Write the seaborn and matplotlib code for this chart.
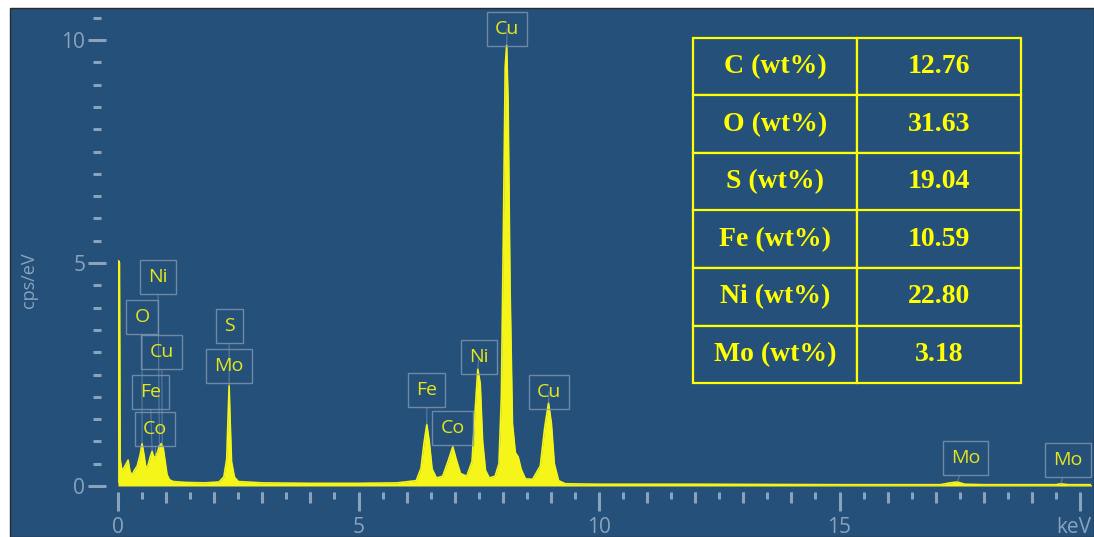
import numpy as np
import pandas as pd
import matplotlib
matplotlib.use("Agg")
import matplotlib.pyplot as plt
import matplotlib.transforms as mtrans
import seaborn as sns
from matplotlib.patches import Rectangle

# ---------------- data ----------------
energy_kev = [0.00, 0.01, 0.03, 0.045, 0.08, 0.12, 0.17, 0.21, 0.25, 0.29, 0.34, 0.40,
              0.46, 0.50, 0.54, 0.58, 0.62, 0.67, 0.71, 0.75, 0.78, 0.82, 0.86, 0.90,
              0.94, 0.98, 1.02, 1.07, 1.15, 1.40, 1.80, 2.10, 2.20, 2.26, 2.29, 2.31,
              2.33, 2.36, 2.42, 2.50, 3.00, 4.00, 5.00, 5.80, 6.20, 6.30, 6.36, 6.42,
              6.47, 6.53, 6.62, 6.75, 6.86, 6.96, 7.03, 7.12, 7.25, 7.36, 7.42, 7.48,
              7.53, 7.58, 7.64, 7.72, 7.84, 7.92, 7.97, 8.01, 8.05, 8.08, 8.11, 8.15,
              8.20, 8.26, 8.32, 8.38, 8.47, 8.62, 8.78, 8.87, 8.95, 9.01, 9.07, 9.16,
              9.30, 10.0, 12.0, 15.0, 17.10, 17.30, 17.45, 17.60, 18.0, 19.50, 19.60,
              19.75, 20.30]
counts_cps_ev = [0.08, 5.05, 5.00, 0.60, 0.35, 0.40, 0.50, 0.58, 0.32, 0.25, 0.35, 0.45,
                 0.70, 0.95, 0.70, 0.40, 0.45, 0.65, 0.78, 0.60, 0.68, 0.75, 0.90, 0.95,
                 0.85, 0.55, 0.25, 0.14, 0.10, 0.08, 0.07, 0.09, 0.20, 0.60, 1.60, 2.25,
                 1.50, 0.55, 0.20, 0.10, 0.07, 0.06, 0.06, 0.07, 0.12, 0.40, 0.95, 1.38,
                 1.00, 0.38, 0.18, 0.22, 0.55, 0.88, 0.60, 0.28, 0.22, 0.55, 1.60, 2.62,
                 2.30, 1.00, 0.35, 0.18, 0.22, 0.50, 2.00, 5.50, 9.40, 9.88, 8.60, 4.50,
                 1.40, 0.75, 0.65, 0.38, 0.16, 0.15, 0.45, 1.30, 1.86, 1.40, 0.50, 0.12,
                 0.05, 0.04, 0.04, 0.03, 0.03, 0.07, 0.09, 0.04, 0.03, 0.03, 0.05,
                 0.03, 0.03]

peak_labels = ["Ni", "O", "Cu", "Fe", "Co", "S", "Mo", "Fe", "Co", "Ni", "Cu", "Cu", "Mo", "Mo"]
peak_energy = [0.86, 0.50, 0.92, 0.71, 0.78, 2.31, 2.31, 6.42, 6.96, 7.48, 8.08, 8.95, 17.45, 19.60]

table_rows = ["C (wt%)", "O (wt%)", "S (wt%)", "Fe (wt%)", "Ni (wt%)", "Mo (wt%)"]
table_vals = ["12.76", "31.63", "19.04", "10.59", "22.80", "3.18"]

x_major = [0, 5, 10, 15, 20]
x_major_labels = ["0", "5", "10", "15", "keV"]
y_major = [0, 5, 10]

# ---------------- layout (label box centres, data units) ----------------
label_text_x = [0.83, 0.50, 0.91, 0.67, 0.77, 2.31, 2.31, 6.42, 6.96, 7.50, 8.09, 8.96, 17.62, 19.75]
label_text_y = [4.69, 3.79, 3.00, 2.11, 1.28, 3.59, 2.69, 2.15, 1.30, 2.89, 10.25, 2.11, 0.63, 0.58]

BG = "#25507a"
YEL = "#f5f51a"
TICK = "#8aa3bd"
BOX = "#7f98b3"

sns.set_theme(style="dark")
plt.rcParams["font.family"] = ["Open Sans", "DejaVu Sans"]

W, H = 1094, 537
fig = plt.figure(figsize=(W / 100, H / 100), dpi=100, facecolor="white")
panel = Rectangle((10 / W, 0), (W - 10) / W, (H - 8) / H, transform=fig.transFigure,
                  facecolor=BG, edgecolor="#2a2a2a", linewidth=1.0, zorder=-10)
fig.add_artist(panel)

ax = fig.add_axes([118 / W, (H - 486) / H, 972.6 / W, 479.45 / H])
ax.set_facecolor(BG)
ax.patch.set_alpha(0.0)
ax.set_zorder(1)

df = pd.DataFrame({"energy": energy_kev, "counts": counts_cps_ev})
ax.fill_between(df["energy"], 0, df["counts"], color=YEL, linewidth=0, zorder=2)
sns.lineplot(data=df, x="energy", y="counts", ax=ax, color=YEL, linewidth=1.2, zorder=3)

ax.set_xlim(0, 20.22)
ax.set_ylim(0, 10.75)

for s in ["top", "right", "left", "bottom"]:
    ax.spines[s].set_visible(False)
ax.spines["left"].set_position(("outward", 15))
ax.spines["bottom"].set_position(("outward", 4))
ax.grid(False)

# y ticks
ax.set_yticks(y_major)
ax.set_yticklabels([str(v) for v in y_major])
ax.set_yticks(np.arange(0, 10.6, 0.5), minor=True)
ax.tick_params(axis="y", which="major", direction="inout", length=13, width=2.2,
               color=TICK, labelcolor=TICK, labelsize=15, pad=2, left=True)
ax.tick_params(axis="y", which="minor", direction="inout", length=6, width=2.2,
               color=TICK, left=True)

# x ticks
ax.set_xticks(x_major)
ax.set_xticklabels(x_major_labels)
ax.set_xticks(np.arange(0, 20.01, 0.5), minor=True)
ax.tick_params(axis="x", which="major", direction="out", length=14, width=2.2,
               color=TICK, labelcolor=TICK, labelsize=15, pad=4, bottom=True)
ax.tick_params(axis="x", which="minor", direction="out", length=5, width=2.2,
               color=TICK, bottom=True)
sec = ax.secondary_xaxis("bottom")
sec.spines["bottom"].set_position(("outward", 4))
sec.spines["bottom"].set_visible(False)
sec.set_xticks([v for v in range(1, 20) if v % 5 != 0])
sec.set_xticklabels([])
sec.tick_params(axis="x", which="major", direction="out", length=8, width=2.2, color=TICK)
sec.tick_params(axis="x", which="minor", bottom=False)

# keep the "keV" unit label inside the figure
kev_lab = ax.get_xticklabels()[-1]
kev_lab.set_horizontalalignment("right")
kev_lab.set_transform(kev_lab.get_transform() +
                      mtrans.ScaledTranslation(11 / 100, 0, fig.dpi_scale_trans))

ax.set_xlabel("")
ax.set_ylabel("cps/eV", color=TICK, fontsize=13)
ax.yaxis.set_label_coords(-0.082, 0.43)

# peak labels
for lab, e, tx, ty in zip(peak_labels, peak_energy, label_text_x, label_text_y):
    py = float(np.interp(e, energy_kev, counts_cps_ev))
    ax.annotate(lab, xy=(e, py), xytext=(tx, ty), ha="center", va="center",
                fontsize=14, color="#e6e61c", zorder=5, annotation_clip=False,
                bbox=dict(boxstyle="square,pad=0.42", fc="none", ec=BOX, lw=1.0, alpha=0.8),
                arrowprops=dict(arrowstyle="-", color=BOX, lw=0.8, alpha=0.6,
                                shrinkA=0, shrinkB=0))

# composition table
x0 = (693 - 118) / 972.6
x1 = (1021 - 118) / 972.6
y0 = (486 - 383) / 479.45
y1 = (486 - 38) / 479.45
tbl = ax.table(cellText=[[r, v] for r, v in zip(table_rows, table_vals)],
               cellLoc="center", bbox=[x0, y0, x1 - x0, y1 - y0], zorder=6)
tbl.auto_set_font_size(False)
for (r, c), cell in tbl.get_celld().items():
    cell.set_facecolor(BG)
    cell.set_edgecolor("#ffff00")
    cell.set_linewidth(1.6)
    t = cell.get_text()
    t.set_color("#ffff00")
    t.set_fontsize(20)
    t.set_fontweight("bold")
    t.set_fontfamily("Liberation Serif")

fig.savefig("out.png", dpi=100, facecolor="white")
